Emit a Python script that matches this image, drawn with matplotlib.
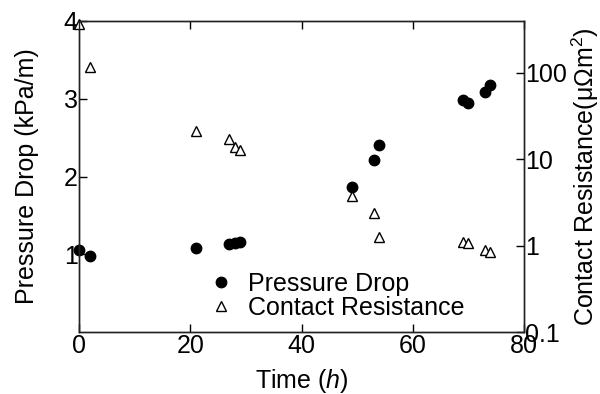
import matplotlib
matplotlib.use("Agg")
import matplotlib.pyplot as plt

plt.rcParams['font.family'] = ['Liberation Sans', 'DejaVu Sans']
plt.rcParams['mathtext.fontset'] = 'custom'
plt.rcParams['mathtext.rm'] = 'Liberation Sans'
plt.rcParams['mathtext.it'] = 'Liberation Sans:italic'

# Pressure drop (left axis)
time_pd = [0, 2, 21, 27, 28, 29, 49, 53, 54, 69, 70, 73, 74]
pressure_drop = [1.05, 0.98, 1.08, 1.13, 1.14, 1.16, 1.86, 2.21, 2.41, 2.98, 2.94, 3.09, 3.18]

# Contact resistance (right axis, log)
time_cr = [0, 2, 21, 27, 28, 29, 49, 53, 54, 69, 70, 73, 74]
contact_res = [370, 117, 21, 17, 14, 12.8, 3.76, 2.37, 1.25, 1.11, 1.07, 0.89, 0.85]

x_ticks = [0, 20, 40, 60, 80]
left_ticks = [1, 2, 3, 4]
right_ticks = [0.1, 1, 10, 100]
right_labels = ['0.1', '1', '10', '100']

fs = 18

fig = plt.figure(figsize=(6, 3.94), dpi=100)
ax = fig.add_axes([0.132, 0.157, 0.741, 0.79])
ax2 = ax.twinx()

p1, = ax.plot(time_pd, pressure_drop, 'o', color='black', markersize=7.5,
              label='Pressure Drop', clip_on=False)
p2, = ax2.plot(time_cr, contact_res, '^', markerfacecolor='white',
               markeredgecolor='black', markeredgewidth=1, markersize=7,
               label='Contact Resistance', clip_on=False)

ax.set_xlim(0, 80)
ax.set_ylim(0, 4)
ax2.set_yscale('log')
ax2.set_ylim(0.1, 400)

ax.set_xticks(x_ticks)
ax.set_yticks(left_ticks)
ax2.set_yticks(right_ticks)
ax2.set_yticklabels(right_labels)
ax2.minorticks_off()

for a in (ax, ax2):
    for s in a.spines.values():
        s.set_linewidth(1)
        s.set_color('#222222')

ax.tick_params(direction='in', length=6, width=1, labelsize=fs, pad=1, top=True)
ax2.tick_params(direction='in', length=6, width=1, labelsize=fs, pad=1)

ax.set_xlabel(r'Time ($\it{h}$)', fontsize=fs, labelpad=7)
ax.set_ylabel('Pressure Drop (kPa/m)', fontsize=fs, labelpad=18)
ax2.set_ylabel('Contact Resistance(μΩm$^2$)', fontsize=fs, labelpad=2)

ax2.legend(handles=[p1, p2], loc='lower left', bbox_to_anchor=(0.238, -0.017),
           frameon=False, fontsize=fs, handletextpad=0.3, borderpad=0.2,
           labelspacing=0.0, handlelength=1.5)

fig.savefig('out.png', dpi=100)
